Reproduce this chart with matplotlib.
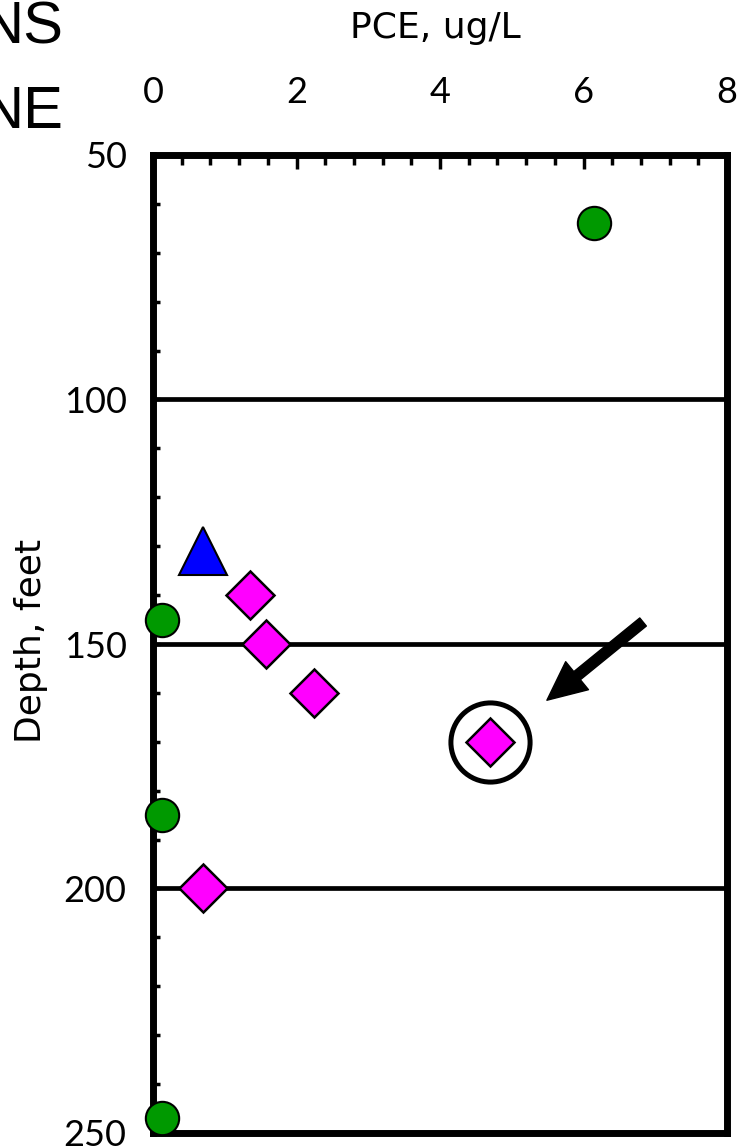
import matplotlib
matplotlib.use("Agg")
import matplotlib.pyplot as plt
from matplotlib.ticker import MultipleLocator

# ---- data ----
circle_pce = [6.15, 0.13, 0.13, 0.13]
circle_depth = [64, 145, 185, 247]
triangle_pce = [0.7]
triangle_depth = [131]
diamond_pce = [1.35, 1.57, 2.25, 4.7, 0.7]
diamond_depth = [140, 150, 160, 170, 200]
highlight_pce = [4.7]
highlight_depth = [170]
arrow_tail = (6.83, 145.5)
arrow_tip = (5.49, 161.5)
grid_depths = [100, 150, 200]
x_ticks = [0, 2, 4, 6, 8]
y_ticks = [50, 100, 150, 200, 250]

W, H = 749, 1146
fig = plt.figure(figsize=(W / 100, H / 100), dpi=100)
ax = fig.add_axes([153 / W, 1 - 1133 / H, (727 - 153) / W, (1133 - 155) / H])

ax.set_xlim(0, 8)
ax.set_ylim(250, 50)

for d in grid_depths:
    ax.axhline(d, color="black", lw=3.4, zorder=1)

ax.plot(circle_pce, circle_depth, "o", ms=24, mfc="#009900", mec="black",
        mew=1.5, clip_on=False, zorder=5, linestyle="none")
ax.plot(triangle_pce, triangle_depth, "^", ms=35, mfc="#0000ff", mec="black",
        mew=1.5, clip_on=False, zorder=5, linestyle="none")
ax.plot(diamond_pce, diamond_depth, "D", ms=24, mfc="#ff00ff", mec="black",
        mew=1.8, clip_on=False, zorder=5, linestyle="none")
ax.plot(highlight_pce, highlight_depth, "o", ms=57, mfc="none", mec="black",
        mew=3.6, clip_on=False, zorder=5, linestyle="none")

ax.annotate("", xy=arrow_tip, xytext=arrow_tail,
            arrowprops=dict(facecolor="black", edgecolor="black",
                            width=7.5, headwidth=26, headlength=28, shrink=0))

for s in ax.spines.values():
    s.set_linewidth(5)
    s.set_zorder(3)

ax.xaxis.tick_top()
ax.xaxis.set_label_position("top")
ax.set_xticks(x_ticks)
ax.set_yticks(y_ticks)
ax.xaxis.set_minor_locator(MultipleLocator(0.4))
ax.yaxis.set_minor_locator(MultipleLocator(10))

tick_font = dict(family=["Lato", "DejaVu Sans"], size=26)
ax.set_xticklabels([str(v) for v in x_ticks], **tick_font)
ax.set_yticklabels([str(v) for v in y_ticks], **tick_font)

ax.tick_params(axis="x", which="major", direction="in", length=10, width=2.5,
               pad=33, top=True, bottom=False)
ax.tick_params(axis="x", which="minor", direction="in", length=7, width=2.5,
               top=True, bottom=False)
ax.tick_params(axis="y", which="major", direction="in", length=5, width=2.5,
               pad=19, left=True, right=False)
ax.tick_params(axis="y", which="minor", direction="in", length=5, width=2.5,
               left=True, right=False)

fig.text(435 / W, 1 - 28 / H, "PCE, ug/L", ha="center", va="center",
         family="DejaVu Sans", size=26)
fig.text(31 / W, 1 - 641 / H, "Depth, feet", ha="center", va="center",
         rotation=90, family="DejaVu Sans", size=26)

fig.text(63 / W, 1 - 28 / H, "NS", ha="right", va="center",
         family="Liberation Sans", size=43)
fig.text(63 / W, 1 - 112 / H, "NE", ha="right", va="center",
         family="Liberation Sans", size=43)

fig.savefig("out.png", dpi=100)
